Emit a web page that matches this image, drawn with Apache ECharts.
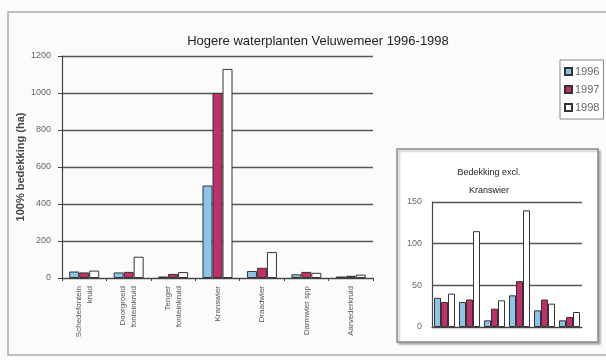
<!DOCTYPE html>
<html>
<head>
<meta charset="utf-8">
<script src="https://cdn.jsdelivr.net/npm/echarts@6/dist/echarts.min.js"></script>
<style>
  html, body { margin: 0; padding: 0; background: #fbfbfb; }
  #chart { width: 606px; height: 360px; }
</style>
</head>
<body>
<div id="chart"></div>
<script>
// soorten (hoofdgrafiek)
var soorten = ['Schedefontein\nkruid', 'Doorgroeid\nfonteinkruid', 'Tenger\nfonteinkruid', 'Kranswier', 'Draadwier', 'Darmwier spp', 'Aarvederkruid'];
var jaren = ['1996', '1997', '1998'];
var ha1996 = [35, 30, 8, 500, 38, 20, 8];
var ha1997 = [30, 33, 22, 1000, 55, 33, 12];
var ha1998 = [40, 115, 32, 1130, 140, 28, 18];
// inzet zonder kranswier
var soortenExcl = ['Schedefontein kruid', 'Doorgroeid fonteinkruid', 'Tenger fonteinkruid', 'Draadwier', 'Darmwier spp', 'Aarvederkruid'];
var excl1996 = [35, 30, 8, 38, 20, 8];
var excl1997 = [30, 33, 22, 55, 33, 12];
var excl1998 = [40, 115, 32, 140, 28, 18];

var kleuren = ['#8cc3e8', '#c2306c', '#ffffff'];

var myChart = echarts.init(document.getElementById('chart'));

function bar(name, data, idx, grid, w) {
    return {
        name: name,
        type: 'bar',
        xAxisIndex: grid,
        yAxisIndex: grid,
        data: data,
        barWidth: w,
        barGap: '0%',
        itemStyle: { color: kleuren[idx], borderColor: '#333', borderWidth: 1 }
    };
}

// geen duizendtal-scheiding
function plain(v) { return String(v); }

var option = {
    backgroundColor: '#fbfbfb',
    animation: false,
    textStyle: { fontFamily: 'Liberation Sans' },
    title: [{
        text: 'Hogere waterplanten Veluwemeer 1996-1998',
        left: 313, top: 30, textAlign: 'center',
        textStyle: { fontSize: 13, fontWeight: 'normal', color: '#222' }
    }, {
        text: 'Bedekking excl.\nKranswier',
        left: 484, top: 159, textAlign: 'center',
        textStyle: { fontSize: 9, fontWeight: 'normal', color: '#222', lineHeight: 18 }
    }],
    legend: {
        data: jaren,
        orient: 'vertical',
        left: 560, top: 60,
        itemWidth: 7, itemHeight: 7, itemGap: 7,
        padding: [6, 4, 6, 4],
        borderColor: '#888', borderWidth: 1,
        backgroundColor: '#fff',
        icon: 'rect',
        textStyle: { fontSize: 11, color: '#666', padding: [0, 0, 0, -2] }
    },
    graphic: [{
        type: 'rect', silent: true, z: -10,
        shape: { x: 8, y: 12, width: 604, height: 343 },
        style: { fill: 'none', stroke: '#aaa', lineWidth: 1.5 }
    }, {
        type: 'rect', silent: true, z: -5,
        shape: { x: 397, y: 149, width: 201, height: 193 },
        style: { fill: '#fff', stroke: '#888', lineWidth: 1.5, shadowColor: 'rgba(0,0,0,0.25)', shadowOffsetX: 2, shadowOffsetY: 2, shadowBlur: 2 }
    }],
    grid: [
        { left: 62, top: 56, width: 311, height: 222 },
        { left: 432, top: 202, width: 150, height: 125 }
    ],
    xAxis: [{
        type: 'category', gridIndex: 0, data: soorten,
        axisLine: { lineStyle: { color: '#444', width: 1.2 } },
        axisTick: { show: true, length: 3, lineStyle: { color: '#444' } },
        axisLabel: { rotate: 90, interval: 0, fontSize: 8, color: '#555', lineHeight: 11, margin: 8 }
    }, {
        type: 'category', gridIndex: 1, data: soortenExcl,
        axisLine: { lineStyle: { color: '#444', width: 1.2 } },
        axisTick: { show: false },
        axisLabel: { show: false }
    }],
    yAxis: [{
        type: 'value', gridIndex: 0, min: 0, max: 1200, interval: 200,
        name: '100% bedekking (ha)', nameLocation: 'middle', nameGap: 36,
        nameMoveOverlap: false,
        nameTextStyle: { fontSize: 11, fontWeight: 'bold', color: '#444' },
        axisLine: { show: true, lineStyle: { color: '#444', width: 1.2 } },
        axisTick: { show: true, length: 4, lineStyle: { color: '#444' } },
        axisLabel: { fontSize: 9, color: '#666', margin: 11, formatter: plain },
        splitLine: { show: true, lineStyle: { color: '#555', width: 1.3 } }
    }, {
        type: 'value', gridIndex: 1, min: 0, max: 150, interval: 50,
        axisLine: { show: true, lineStyle: { color: '#444', width: 1.2 } },
        axisTick: { show: false },
        axisLabel: { fontSize: 9, color: '#666', margin: 10, formatter: plain },
        splitLine: { show: true, lineStyle: { color: '#555', width: 1.3 } }
    }],
    series: [
        bar('1996', ha1996, 0, 0, 10),
        bar('1997', ha1997, 1, 0, 10),
        bar('1998', ha1998, 2, 0, 10),
        bar('1996', excl1996, 0, 1, 7),
        bar('1997', excl1997, 1, 1, 7),
        bar('1998', excl1998, 2, 1, 7)
    ]
};
myChart.setOption(option);
</script>
</body>
</html>
